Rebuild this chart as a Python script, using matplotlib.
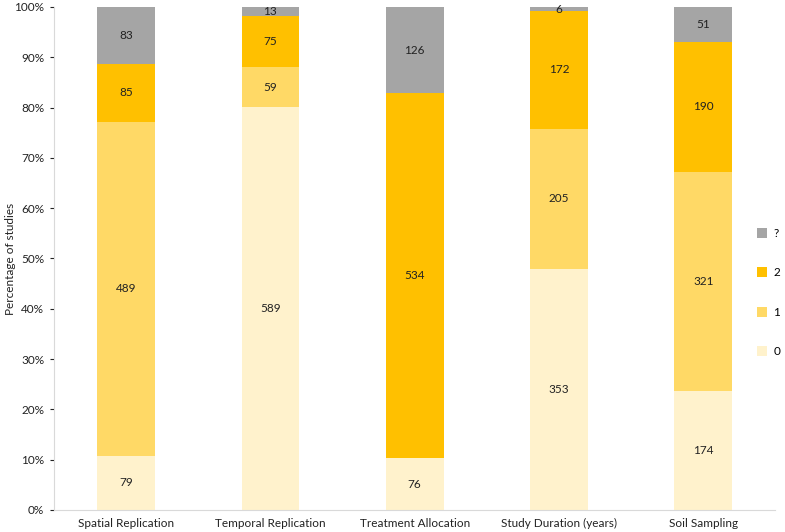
import numpy as np
import matplotlib.pyplot as plt
from matplotlib.patches import Patch

plt.rcParams['font.family'] = ['Lato', 'DejaVu Sans']

categories = ['Spatial Replication', 'Temporal Replication', 'Treatment Allocation',
              'Study Duration (years)', 'Soil Sampling']
score_0 = [79, 589, 76, 353, 174]
score_1 = [489, 59, 0, 205, 321]
score_2 = [85, 75, 534, 172, 190]
score_q = [83, 13, 126, 6, 51]

series = [('0', score_0, '#FFF2CC'),
          ('1', score_1, '#FFD966'),
          ('2', score_2, '#FFC000'),
          ('?', score_q, '#A5A5A5')]

totals = np.sum([score_0, score_1, score_2, score_q], axis=0)
x = np.arange(len(categories))

fig = plt.figure(figsize=(7.85, 5.32), dpi=100)
ax = fig.add_axes([0.0688, 0.0414, 0.919, 0.9455])

bottom = np.zeros(len(categories))
for name, vals, col in series:
    pct = np.array(vals) / totals * 100
    ax.bar(x, pct, 0.4, bottom=bottom, color=col, linewidth=0)
    for xi, p, b, v in zip(x, pct, bottom, vals):
        if v > 0:
            ax.text(xi, b + p / 2, str(v), ha='center', va='center',
                    fontsize=8.5, color='#222222')
    bottom += pct

ax.set_xlim(-0.5, len(categories) - 0.5)
ax.set_ylim(0, 100)
ax.set_yticks(np.arange(0, 101, 10))
ax.set_yticklabels([f'{t}%' for t in range(0, 101, 10)])
ax.set_xticks(x)
ax.set_xticklabels(categories)
ax.tick_params(axis='x', length=0, labelsize=8.5, colors='#222222', pad=6)
ax.tick_params(axis='y', length=3, labelsize=8.5, colors='#222222', pad=4)
for t in ax.get_yticklines():
    t.set_color('#d9d9d9')
ax.set_ylabel('Percentage of studies', fontsize=8.5, color='#222222')
ax.yaxis.set_label_coords(-0.052, 0.5)

for s in ['top', 'right']:
    ax.spines[s].set_visible(False)
ax.spines['left'].set_color('#d9d9d9')
ax.spines['bottom'].set_color('#d9d9d9')

handles = [Patch(facecolor=col, label=name) for name, vals, col in reversed(series)]
fig.legend(handles=handles, loc='center left', bbox_to_anchor=(0.958, 0.45),
           frameon=False, fontsize=8.5, handlelength=0.9, handleheight=0.9,
           handletextpad=0.5, labelspacing=2.4, borderaxespad=0)

fig.savefig('out.png', dpi=100)
